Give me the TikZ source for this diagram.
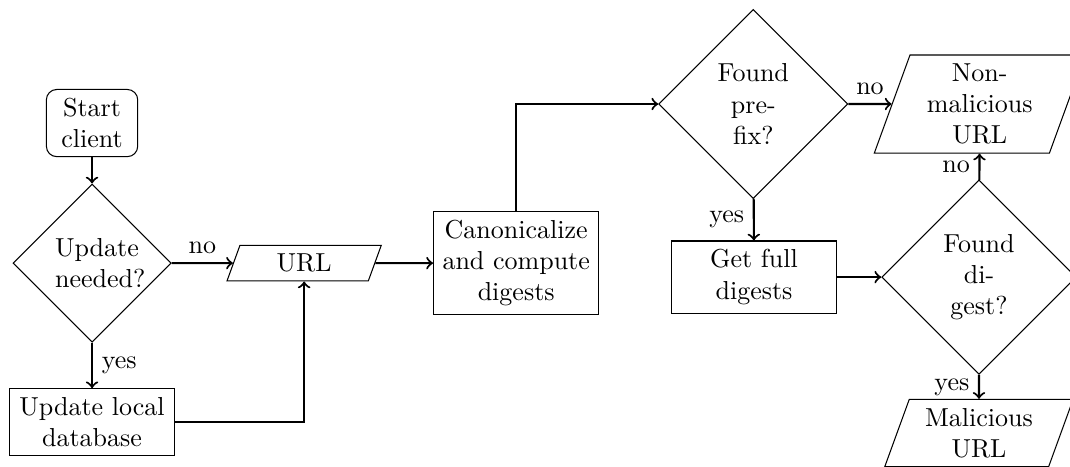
\documentclass[tikz,border=0pt]{standalone}
\usetikzlibrary{shapes.geometric}
\tikzset{
    startstop/.style={rectangle, rounded corners, draw, text width=1cm, align=center},
    process/.style={rectangle, draw, text width=2cm, align=center},
    decision/.style={diamond, draw, text width=1cm, align=center},
    io/.style={trapezium, trapezium left angle=70, trapezium right angle=110,
        draw, text width=1.5cm, align=center},
    flow/.style={->, thick},
}
\begin{document}
\begin{tikzpicture}
    \useasboundingbox (0,0) rectangle (14.46,-6.30);
    % left part
    \node[startstop] (StartClient) at (1.244,-1.663) {Start client};
    \node[decision] (UpdateNeeded) at (1.244,-3.556) {Update needed?};
    \node[process] (UpdateDb) at (1.244,-5.705) {Update local database};
    \node[io] (Url) at (4.110,-3.556) {URL};
    \node[process] (Canon) at (6.976,-3.556) {Canonicalize and compute digests};
    % right part
    \node[decision] (FoundPrefix) at (10.18,-1.406) {Found prefix?};
    \node[io,text width=1.65cm] (NonMalicious) at (13.24,-1.406) {Non-malicious URL};
    \node[process] (GetFull) at (10.19,-3.745) {Get full digests};
    \node[decision] (FoundDigest) at (13.23,-3.745) {Found digest?};
    \node[io,text width=1.65cm,anchor=north] (Malicious) at (13.23,-5.39) {Malicious URL};
    \draw[flow] (StartClient) -- (UpdateNeeded);
    \draw[flow] (UpdateNeeded) -- node[above] {no} (Url);
    \draw[flow] (UpdateNeeded) -- node[right] {yes} (UpdateDb);
    \draw[flow] (UpdateDb.east) -| (Url.south);
    \draw[flow] (Url) -- (Canon);
    \draw[flow] (Canon.north) |- (FoundPrefix.west);
    \draw[flow] (FoundPrefix) -- node[above] {no} (NonMalicious);
    \draw[flow] (FoundPrefix) -- node[left] {yes} (GetFull);
    \draw[flow] (GetFull) -- (FoundDigest);
    \draw[flow] (FoundDigest) -- node[left] {no} (NonMalicious);
    \draw[flow] (FoundDigest) -- node[left] {yes} (Malicious);
\end{tikzpicture}
\end{document}
